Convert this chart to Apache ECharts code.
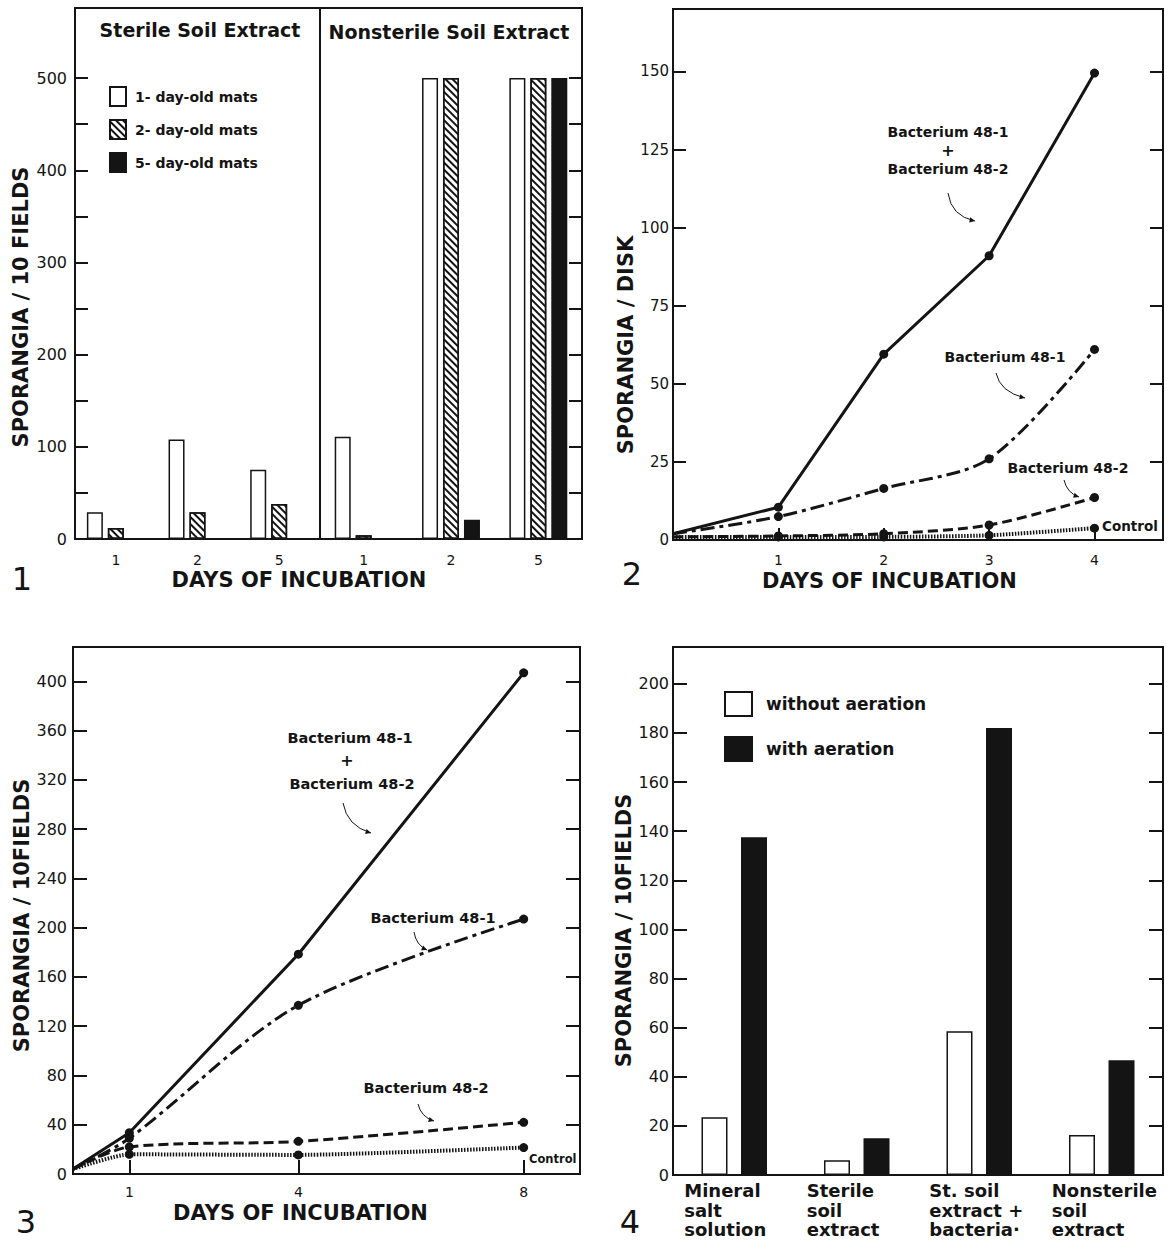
<!doctype html>
<html>
	<head>
		<meta charset="utf-8">
		<title>Sporangia</title>
		<script src="https://cdn.jsdelivr.net/npm/echarts@6.0.0/dist/echarts.min.js"></script>
		<style>
			html, body { margin: 0; padding: 0; background: #fff; }
			#main { width: 1173px; height: 1243px; }
		</style>
	</head>
	<body>
		<div id="main"></div>
		<script type="text/javascript">
			// fig 1 - sporangia per 10 fields, by age of mat
			var p1Days = ['1', '2', '5'];
			var p1Mats = ['1- day-old mats', '2- day-old mats', '5- day-old mats'];
			var p1Ticks = [0, 50, 100, 150, 200, 250, 300, 350, 400, 450, 500];
			var p1Sterile1 = [29, 108, 75];
			var p1Sterile2 = [12, 29, 38];
			var p1Sterile5 = [0, 0, 0];
			var p1Non1 = [111, 500, 500];
			var p1Non2 = [4, 500, 500];
			var p1Non5 = [0, 21, 500];

			// fig 2 - sporangia per disk
			var p2Days = [0, 1, 2, 3, 4];
			var p2DayTicks = [1, 2, 3, 4];
			var p2Both = [2, 10.5, 59.5, 91, 149.5];
			var p2Bact1 = [2, 7.5, 16.5, 26, 61];
			var p2Bact2 = [1, 1.3, 2, 4.8, 13.6];
			var p2Control = [1, 1, 1, 1.5, 3.8];

			// fig 3 - sporangia per 10 fields
			var p3Days = [0, 1, 4, 8];
			var p3DayTicks = [1, 4, 8];
			var p3Both = [4, 33.5, 178.5, 407];
			var p3Bact1 = [4, 29, 137, 207];
			var p3Bact2 = [4, 22, 26.5, 42];
			var p3Control = [4, 16, 15.5, 21.5];

			// fig 4 - aeration
			var p4Media = ['Mineral\nsalt\nsolution', 'Sterile\nsoil\nextract', 'St. soil\nextract +\nbacteria·', 'Nonsterile\nsoil\nextract'];
			var p4Aeration = ['without aeration', 'with aeration'];
			var p4Without = [23.5, 6, 58.5, 16.3];
			var p4With = [137.5, 15, 182, 46.7];

			var ink = '#141414';
			var font = 'DejaVu Sans';
			var axisLn = { show: true, lineStyle: { color: ink, width: 2 } };
			var tickIn = function(len, values) {
				var t = { show: true, inside: true, length: len, lineStyle: { color: ink, width: 2 } };
				if (values) t.customValues = values;
				return t;
			};
			var hatch = { symbol: 'rect', symbolSize: 1, color: ink, dashArrayX: [1, 0], dashArrayY: [1.4, 2.6], rotation: Math.PI / 4 };
			var whiteBar = { color: '#fff', borderColor: ink, borderWidth: 1.5 };
			var hatchBar = { color: '#fff', borderColor: ink, borderWidth: 1.5, decal: hatch };
			var blackBar = { color: ink, borderColor: ink, borderWidth: 1.5 };

			function pts(xs, ys) {
				return xs.map(function(x, i) {
					return i === 0 ? { value: [x, ys[i]], symbol: 'none' } : [x, ys[i]];
				});
			}

			function line(name, xi, yi, xs, ys, dash, w, smooth) {
				return {
					name: name, type: 'line', xAxisIndex: xi, yAxisIndex: yi,
					data: pts(xs, ys), symbol: 'circle', symbolSize: 9, smooth: smooth,
					lineStyle: { color: ink, width: w, type: dash, cap: 'butt' },
					itemStyle: { color: ink }
				};
			}

			function bar(name, xi, yi, data, style, bw, gap) {
				return { name: name, type: 'bar', xAxisIndex: xi, yAxisIndex: yi, data: data, itemStyle: style, barWidth: bw, barGap: gap };
			}

			function label(text, x, y, size, weight, align) {
				return {
					type: 'text', x: x, y: y,
					style: { text: text, fill: ink, fontFamily: font, fontSize: size, fontWeight: weight || 'bold', align: align || 'center', verticalAlign: 'middle' }
				};
			}

			function arrow(x1, y1, cx, cy, x2, y2) {
				var a = Math.atan2(y2 - cy, x2 - cx), L = 6, s = 0.45;
				return [{
					type: 'bezierCurve',
					shape: { x1: x1, y1: y1, cpx1: cx, cpy1: cy, x2: x2, y2: y2 },
					style: { stroke: ink, lineWidth: 1, fill: null }
				}, {
					type: 'polygon',
					shape: { points: [[x2, y2], [x2 - L * Math.cos(a - s), y2 - L * Math.sin(a - s)], [x2 - L * Math.cos(a + s), y2 - L * Math.sin(a + s)]] },
					style: { fill: ink }
				}];
			}

			var nameStyle = function(pad) {
				return { fontSize: 21, fontWeight: 'bold', color: ink, fontFamily: font, padding: pad };
			};
			var tickLabel = function(size, margin, fmt) {
				return { fontSize: size, color: ink, fontFamily: font, margin: margin, formatter: fmt };
			};

			var graphics = [
				label('Sterile Soil Extract', 200, 30, 19),
				label('Nonsterile Soil Extract', 449, 32, 19),
				label('1', 22, 579, 32, 'normal'),
				label('2', 632, 574, 32, 'normal'),
				label('3', 26, 1222, 32, 'normal'),
				label('4', 630, 1222, 32, 'normal'),
				// fig 2 notes
				label('Bacterium 48-1', 948, 132, 14),
				label('+', 948, 150, 16),
				label('Bacterium 48-2', 948, 168.5, 14),
				label('Bacterium 48-1', 1005, 357, 14),
				label('Bacterium 48-2', 1068, 468, 14),
				label('Control', 1102, 526, 13.5, 'bold', 'left'),
				// fig 3 notes
				label('Bacterium 48-1', 350, 738, 14.5),
				label('+', 347, 760, 16),
				label('Bacterium 48-2', 352, 784, 14.5),
				label('Bacterium 48-1', 433, 918, 14.5),
				label('Bacterium 48-2', 426, 1088, 14.5),
				label('Control', 529, 1159, 11.5, 'bold', 'left')
			].concat(
				arrow(948, 193, 951, 216, 975, 221),
				arrow(996, 373, 1000, 392, 1025, 398),
				arrow(1064, 480, 1067, 493, 1079, 497),
				arrow(343, 803, 347, 826, 371, 833),
				arrow(414, 932, 416, 945, 427, 950),
				arrow(418, 1104, 421, 1117, 434, 1121)
			);

			var chart = echarts.init(document.getElementById('main'), null, { renderer: 'svg' });
			chart.setOption({
				backgroundColor: '#fff',
				animation: false,
				textStyle: { fontFamily: font, color: ink },
				grid: [
					{ left: 75, top: 8, width: 245, height: 531, show: true, borderColor: ink, borderWidth: 2 },
					{ left: 320, top: 8, width: 262, height: 531, show: true, borderColor: ink, borderWidth: 2 },
					{ left: 673, top: 9, width: 490, height: 531, show: true, borderColor: ink, borderWidth: 2 },
					{ left: 73, top: 647, width: 507, height: 527, show: true, borderColor: ink, borderWidth: 2 },
					{ left: 673, top: 647, width: 490, height: 528, show: true, borderColor: ink, borderWidth: 2 }
				],
				legend: [{
					data: p1Mats, orient: 'vertical', left: 109, top: 86, padding: 0,
					itemWidth: 16, itemHeight: 19, itemGap: 12, icon: 'rect', selectedMode: false,
					textStyle: { fontSize: 14, fontWeight: 'bold', color: ink, fontFamily: font, padding: [0, 0, 0, 4] }
				}, {
					data: p4Aeration, orient: 'vertical', left: 724, top: 691, padding: 0,
					itemWidth: 27, itemHeight: 24, itemGap: 19, icon: 'rect', selectedMode: false,
					textStyle: { fontSize: 17, fontWeight: 'bold', color: ink, fontFamily: font, padding: [0, 0, 0, 9] }
				}],
				xAxis: [{
					gridIndex: 0, type: 'category', data: p1Days, axisLine: axisLn, axisTick: { show: false },
					axisLabel: tickLabel(14, 14),
					name: 'DAYS OF INCUBATION', nameLocation: 'middle', nameGap: 30, nameTextStyle: nameStyle([0, 0, 0, 203])
				}, {
					gridIndex: 1, type: 'category', data: p1Days, axisLine: axisLn, axisTick: { show: false },
					axisLabel: tickLabel(14, 14)
				}, {
					gridIndex: 2, type: 'value', min: 0, max: 4.65, interval: 1, axisLine: axisLn,
					axisTick: tickIn(12, p2DayTicks),
					axisLabel: Object.assign(tickLabel(14, 13, function(v) { return v > 0 && v % 1 === 0 ? v : ''; }), { customValues: p2DayTicks }),
					splitLine: { show: false },
					name: 'DAYS OF INCUBATION', nameLocation: 'middle', nameGap: 30, nameTextStyle: nameStyle([0, 57, 0, 0])
				}, {
					gridIndex: 3, type: 'value', min: 0, max: 9, interval: 1, axisLine: axisLn,
					axisTick: tickIn(14, p3DayTicks),
					axisLabel: Object.assign(tickLabel(14, 11), { customValues: p3DayTicks }),
					splitLine: { show: false },
					name: 'DAYS OF INCUBATION', nameLocation: 'middle', nameGap: 28, nameTextStyle: nameStyle([0, 52, 0, 0])
				}, {
					gridIndex: 4, type: 'category', data: p4Media, axisLine: axisLn, axisTick: { show: false },
					axisLabel: {
						interval: 0, margin: 6,
						formatter: function(v) {
							return v.split('\n').map(function(s) { return '{a|' + s + '}'; }).join('\n');
						},
						rich: { a: { width: 100, align: 'left', fontSize: 18, fontWeight: 'bold', lineHeight: 19.5, color: ink, fontFamily: font } }
					}
				}],
				yAxis: [{
					gridIndex: 0, type: 'value', min: 0, max: 576, interval: 50, position: 'left',
					axisLine: axisLn, axisTick: tickIn(13, p1Ticks), splitLine: { show: false },
					axisLabel: tickLabel(16, 8, function(v) { return v % 100 === 0 && v <= 500 ? v : ''; }),
					name: 'SPORANGIA / 10 FIELDS', nameLocation: 'middle', nameGap: 44, nameTextStyle: nameStyle([0, 67, 0, 0])
				}, {
					gridIndex: 1, type: 'value', min: 0, max: 576, interval: 50, position: 'right',
					axisLine: axisLn, axisTick: tickIn(13, p1Ticks), splitLine: { show: false }, axisLabel: { show: false }
				}, {
					gridIndex: 2, type: 'value', min: 0, max: 170, interval: 25, position: 'left',
					axisLine: axisLn, axisTick: tickIn(13), splitLine: { show: false },
					axisLabel: tickLabel(15, 4, function(v) { return v <= 150 ? v : ''; }),
					name: 'SPORANGIA / DISK', nameLocation: 'middle', nameGap: 28, nameTextStyle: nameStyle([0, 141, 0, 0])
				}, {
					gridIndex: 2, type: 'value', min: 0, max: 170, interval: 25, position: 'right',
					axisLine: axisLn, axisTick: tickIn(13), splitLine: { show: false }, axisLabel: { show: false }
				}, {
					gridIndex: 3, type: 'value', min: 0, max: 428, interval: 40, position: 'left',
					axisLine: axisLn, axisTick: tickIn(14), splitLine: { show: false },
					axisLabel: tickLabel(16, 6, function(v) { return v <= 400 ? v : ''; }),
					name: 'SPORANGIA / 10FIELDS', nameLocation: 'middle', nameGap: 39, nameTextStyle: nameStyle([0, 10, 0, 0])
				}, {
					gridIndex: 3, type: 'value', min: 0, max: 428, interval: 40, position: 'right',
					axisLine: axisLn, axisTick: tickIn(14), splitLine: { show: false }, axisLabel: { show: false }
				}, {
					gridIndex: 4, type: 'value', min: 0, max: 215, interval: 20, position: 'left',
					axisLine: axisLn, axisTick: tickIn(14), splitLine: { show: false },
					axisLabel: tickLabel(16, 4, function(v) { return v <= 200 ? v : ''; }),
					name: 'SPORANGIA / 10FIELDS', nameLocation: 'middle', nameGap: 33, nameTextStyle: nameStyle([0, 39, 0, 0])
				}, {
					gridIndex: 4, type: 'value', min: 0, max: 215, interval: 20, position: 'right',
					axisLine: axisLn, axisTick: tickIn(14), splitLine: { show: false }, axisLabel: { show: false }
				}],
				series: [
					bar(p1Mats[0], 0, 0, p1Sterile1, whiteBar, 16, '31%'),
					bar(p1Mats[1], 0, 0, p1Sterile2, hatchBar, 16, '31%'),
					bar(p1Mats[2], 0, 0, p1Sterile5, blackBar, 16, '31%'),
					bar(p1Mats[0], 1, 1, p1Non1, whiteBar, 16, '31%'),
					bar(p1Mats[1], 1, 1, p1Non2, hatchBar, 16, '31%'),
					bar(p1Mats[2], 1, 1, p1Non5, blackBar, 16, '31%'),

					line('2: Bacterium 48-1 + Bacterium 48-2', 2, 2, p2Days, p2Both, 'solid', 3, false),
					line('2: Bacterium 48-1', 2, 2, p2Days, p2Bact1, [14, 5, 4, 5], 3, 0.3),
					line('2: Bacterium 48-2', 2, 2, p2Days, p2Bact2, [10, 5], 3, 0.3),
					line('2: Control', 2, 2, p2Days, p2Control, [1.5, 1.5], 4, 0.2),

					line('3: Bacterium 48-1 + Bacterium 48-2', 3, 4, p3Days, p3Both, 'solid', 3, false),
					line('3: Bacterium 48-1', 3, 4, p3Days, p3Bact1, [14, 5, 4, 5], 3, 0.3),
					line('3: Bacterium 48-2', 3, 4, p3Days, p3Bact2, [10, 5], 3, 0.3),
					line('3: Control', 3, 4, p3Days, p3Control, [1.5, 1.5], 4, 0.2),

					bar(p4Aeration[0], 4, 6, p4Without, whiteBar, 26, '52%'),
					bar(p4Aeration[1], 4, 6, p4With, blackBar, 26, '52%')
				],
				graphic: graphics
			});
		</script>
	</body>
</html>
